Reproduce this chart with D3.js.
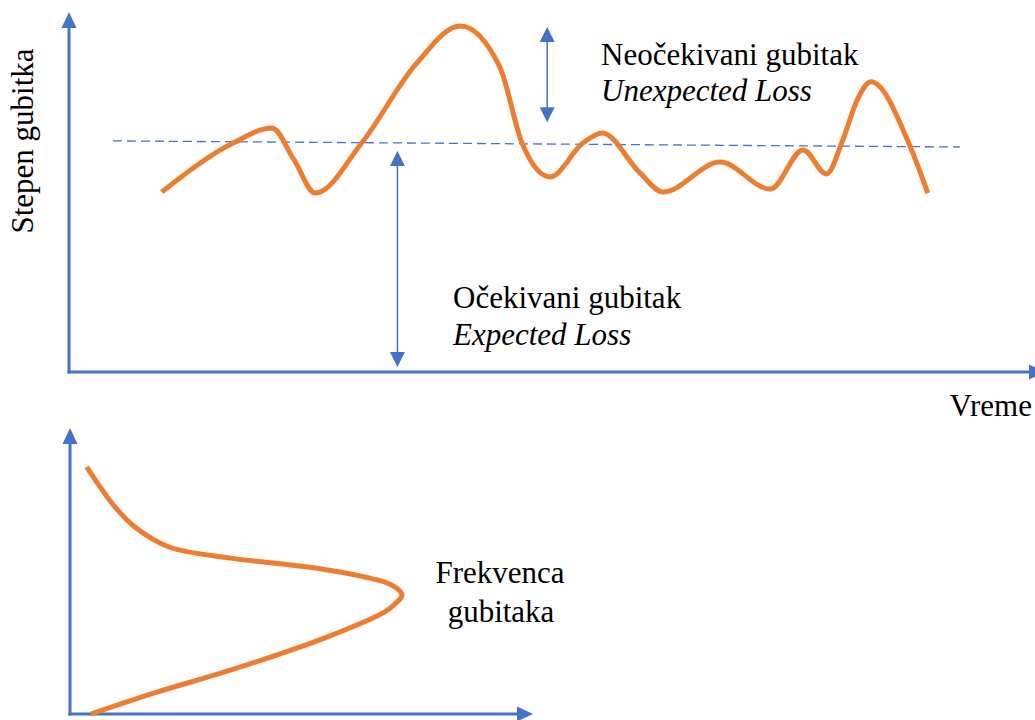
<!DOCTYPE html>
<html>
<head>
<meta charset="utf-8">
<script src="https://cdn.jsdelivr.net/npm/d3@7"></script>
<style>
  html, body { margin: 0; padding: 0; background: #fff; }
  svg { display: block; }
</style>
</head>
<body>
<svg id="chart" width="1035" height="720"></svg>
<script>
// ---- Data (top panel: loss level over time, both in 0..100 units) ----
const lossTime  = [9.6, 17.0, 21.0, 23.3, 25.5, 30.3, 36.0, 40.5, 44.6, 46.9, 49.8, 53.2, 55.2, 59.1, 61.5, 67.4, 72.6, 76.0, 78.4, 80.1, 81.6, 83.0, 87.1, 88.9];
const lossLevel = [50.0, 63.6, 67.8, 58.9, 49.7, 63.6, 85.8, 96.1, 84.7, 63.6, 54.2, 63.6, 66.4, 55.3, 50.0, 58.3, 50.8, 61.7, 55.0, 64.4, 75.6, 80.6, 62.5, 49.7];
// expected loss (dashed) line: start/end
const expectedTime  = [4.55, 92.2];
const expectedLevel = [64.2, 62.5];
// annotation arrows [time, fromLevel, toLevel]
const unexpectedArrow = [49.5, 69.4, 95.8];
const expectedArrow   = [34.0, 1.4, 61.4];

// ---- Data (bottom panel: frequency of losses vs loss level) ----
const freqValue = [3.6, 6.5, 9.7, 14.0, 21.4, 34.8, 51.4, 63.7, 69.5, 71.7, 70.4, 68.0, 55.5, 34.8, 18.1, 4.5];
const freqLevel = [86.4, 79.4, 72.4, 65.4, 58.4, 54.5, 51.4, 47.9, 45.1, 41.6, 38.8, 35.7, 26.9, 15.4, 7.3, 0];

// ---- Labels ----
const yLabelTop = "Stepen gubitka";
const xLabelTop = "Vreme";
const unexpectedLabels = ["Neočekivani gubitak", "Unexpected Loss"];
const expectedLabels   = ["Očekivani gubitak", "Expected Loss"];
const freqLabels = ["Frekvenca", "gubitaka"];

// ---- Styles ----
const BLUE = "#4472C4";
const ORANGE = "#ED7D31";
const FONT = 31;
const FAMILY = "'Liberation Serif', 'Times New Roman', Times, Tinos, 'Nimbus Roman', 'Nimbus Roman No9 L', 'Noto Serif', 'DejaVu Serif', FreeSerif, 'Noto Serif CJK SC', serif";

const svg = d3.select("#chart");

// Scales
const xTop = d3.scaleLinear().domain([0, 100]).range([69, 1035]);
const yTop = d3.scaleLinear().domain([0, 100]).range([372, 12]);
const xBot = d3.scaleLinear().domain([0, 100]).range([70, 533]);
const yBot = d3.scaleLinear().domain([0, 100]).range([714, 428]);

function arrowHead(g, tip, dir, len, half, color) {
  const [tx, ty] = tip, [dx, dy] = dir;
  const bx = tx - dx * len, by = ty - dy * len;
  const px = -dy, py = dx;
  g.append("path")
    .attr("d", `M${tx},${ty}L${bx + px * half},${by + py * half}L${bx - px * half},${by - py * half}Z`)
    .attr("fill", color);
}
function label(x, y, str, opts = {}) {
  const t = svg.append("text")
    .attr("x", x).attr("y", y)
    .style("font-family", FAMILY)
    .style("font-size", FONT + "px")
    .attr("fill", "#000")
    .text(str);
  if (opts.italic) t.style("font-style", "italic");
  if (opts.anchor) t.attr("text-anchor", opts.anchor);
  if (opts.transform) t.attr("transform", opts.transform);
  return t;
}

// ---- Top panel axes ----
const axTop = svg.append("g");
axTop.append("line")
  .attr("x1", xTop(0)).attr("y1", yTop(0) + 1.5)
  .attr("x2", xTop(0)).attr("y2", yTop(100) + 14)
  .attr("stroke", BLUE).attr("stroke-width", 3);
arrowHead(axTop, [xTop(0), yTop(100)], [0, -1], 16, 7.5, BLUE);
axTop.append("line")
  .attr("x1", xTop(0) - 1.5).attr("y1", yTop(0))
  .attr("x2", xTop(100) - 6).attr("y2", yTop(0))
  .attr("stroke", BLUE).attr("stroke-width", 3);
arrowHead(axTop, [xTop(100) + 10, yTop(0)], [1, 0], 16, 7.5, BLUE);

// Dashed expected-loss line
svg.append("line")
  .attr("x1", xTop(expectedTime[0])).attr("y1", yTop(expectedLevel[0]))
  .attr("x2", xTop(expectedTime[1])).attr("y2", yTop(expectedLevel[1]))
  .attr("stroke", BLUE).attr("stroke-width", 1.3)
  .attr("stroke-dasharray", "9,5");

// Loss curve
const topPts = lossTime.map((t, i) => [t, lossLevel[i]]);
svg.append("path")
  .datum(topPts)
  .attr("d", d3.line().x(d => xTop(d[0])).y(d => yTop(d[1])).curve(d3.curveMonotoneX))
  .attr("fill", "none").attr("stroke", ORANGE).attr("stroke-width", 5)
  .attr("stroke-linejoin", "round");

// Annotation arrows
function doubleArrow(x, y1, y2) {
  const g = svg.append("g");
  const top = Math.min(y1, y2), bot = Math.max(y1, y2);
  g.append("line")
    .attr("x1", x).attr("y1", top + 12)
    .attr("x2", x).attr("y2", bot - 12)
    .attr("stroke", BLUE).attr("stroke-width", 1.5);
  arrowHead(g, [x, top], [0, -1], 15, 7.5, BLUE);
  arrowHead(g, [x, bot], [0, 1], 15, 7.5, BLUE);
}
doubleArrow(xTop(unexpectedArrow[0]), yTop(unexpectedArrow[1]), yTop(unexpectedArrow[2]));
doubleArrow(xTop(expectedArrow[0]), yTop(expectedArrow[1]), yTop(expectedArrow[2]));

// Texts top
label(601, 65, unexpectedLabels[0]);
label(601, 101, unexpectedLabels[1], {italic: true});
label(453, 308, expectedLabels[0]);
label(453, 345, expectedLabels[1], {italic: true});
label(1032, 416, xLabelTop, {anchor: "end"});
label(0, 0, yLabelTop, {anchor: "middle", transform: "translate(33,141) rotate(-90)"});

// ---- Bottom panel ----
const axBot = svg.append("g");
axBot.append("line")
  .attr("x1", xBot(0)).attr("y1", yBot(0) + 1.5)
  .attr("x2", xBot(0)).attr("y2", yBot(100) + 14)
  .attr("stroke", BLUE).attr("stroke-width", 3);
arrowHead(axBot, [xBot(0), yBot(100)], [0, -1], 16, 7.5, BLUE);
axBot.append("line")
  .attr("x1", xBot(0) - 1.5).attr("y1", yBot(0))
  .attr("x2", xBot(100) - 14).attr("y2", yBot(0))
  .attr("stroke", BLUE).attr("stroke-width", 3);
arrowHead(axBot, [xBot(100), yBot(0)], [1, 0], 16, 7.5, BLUE);

const botPts = freqValue.map((f, i) => [f, freqLevel[i]]);
svg.append("path")
  .datum(botPts)
  .attr("d", d3.line().x(d => xBot(d[0])).y(d => yBot(d[1])).curve(d3.curveCatmullRom.alpha(0.5)))
  .attr("fill", "none").attr("stroke", ORANGE).attr("stroke-width", 5);

label(500, 583, freqLabels[0], {anchor: "middle"});
label(501, 622, freqLabels[1], {anchor: "middle"});
</script>
</body>
</html>
